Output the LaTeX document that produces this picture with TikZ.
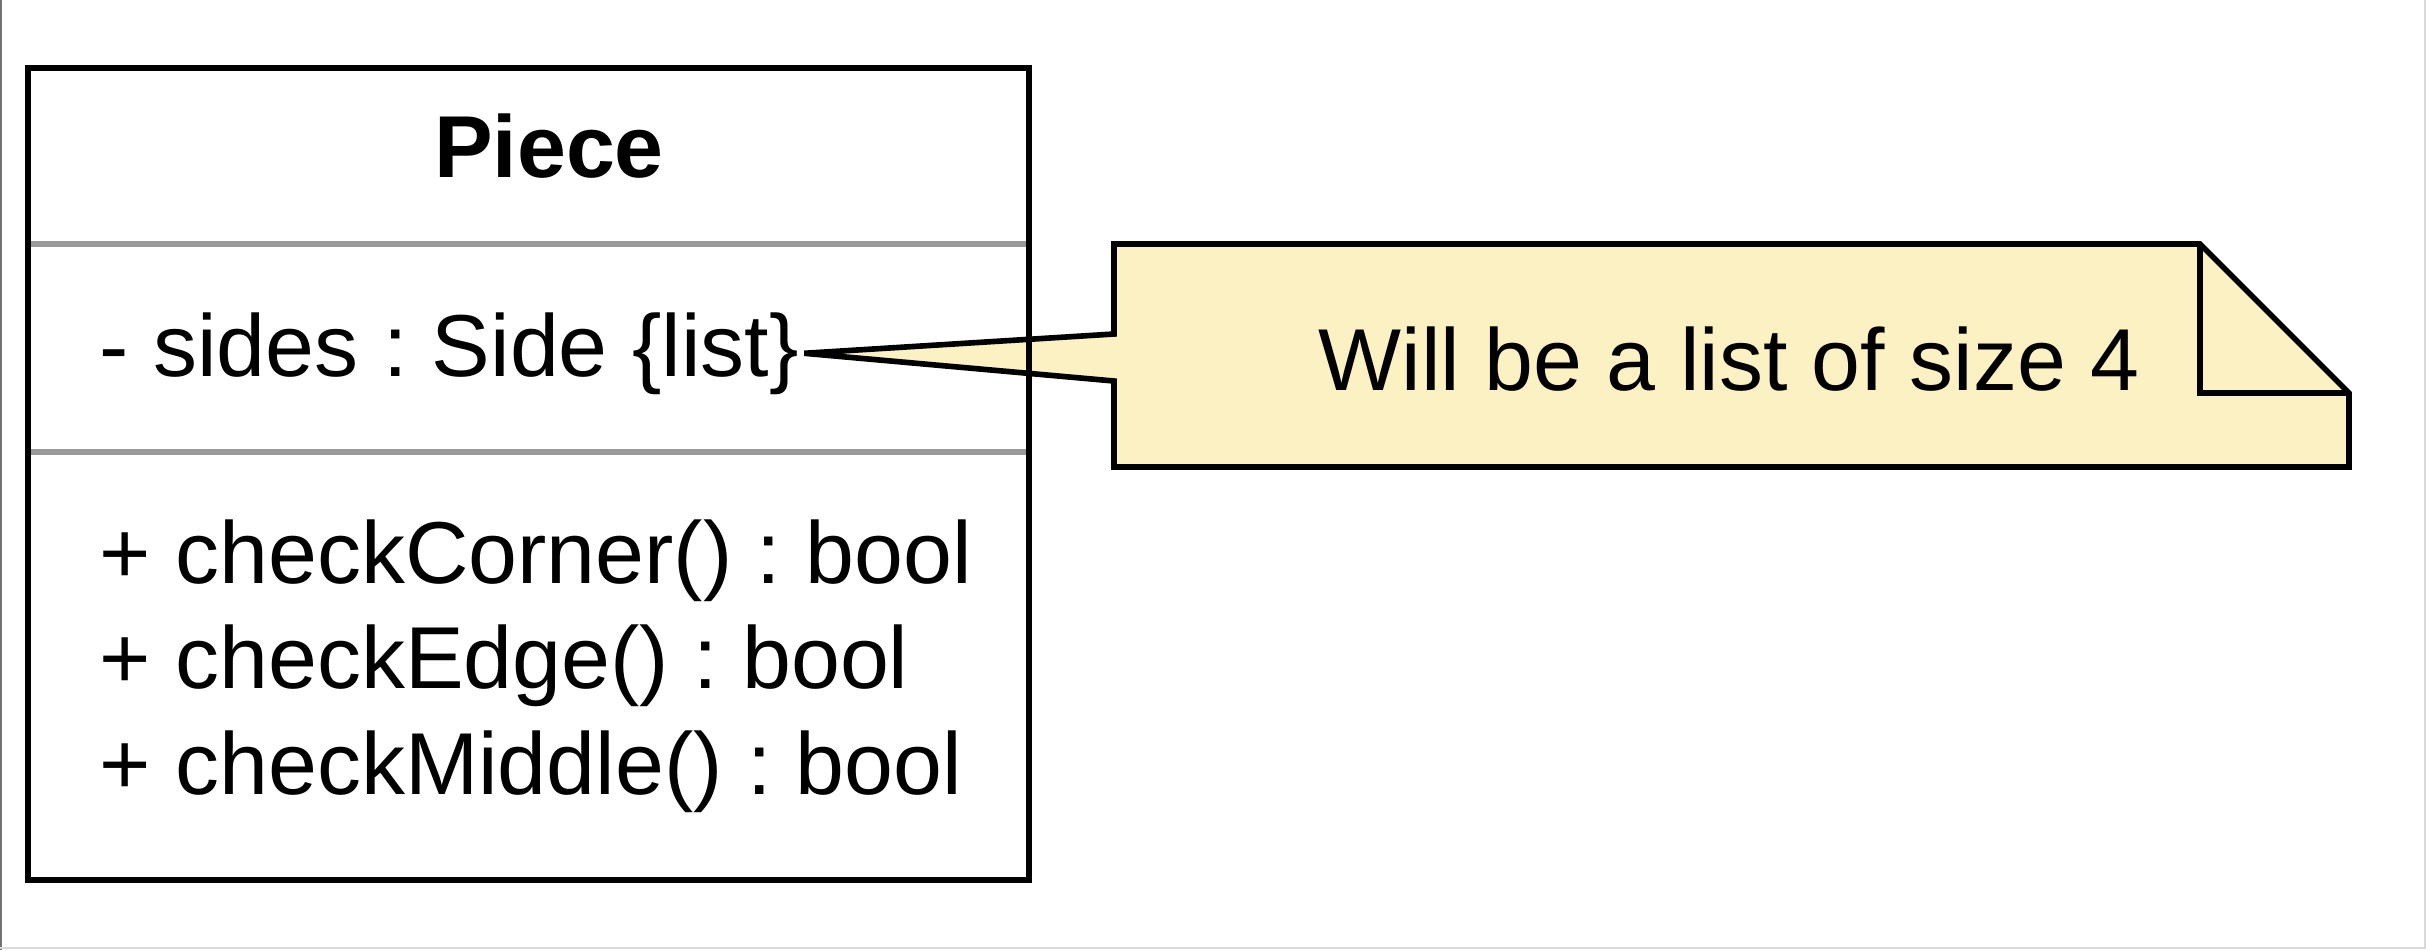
\documentclass[tikz,border=0pt]{standalone}
\usepackage{fontspec}
\setmainfont{Liberation Sans}
\definecolor{notefill}{RGB}{252,241,194}
\definecolor{sepgray}{RGB}{153,153,153}
\frenchspacing

\begin{document}
\begin{tikzpicture}[x = 0.01cm, y = -0.01cm, line width = 1.6pt,
        font = \fontsize{25}{30}\selectfont,
        member/.style = {anchor = base west, inner sep = 0pt}]
    \useasboundingbox (0, 0) rectangle (2426, 950);
    % frame round the page
    \draw[line width = 0.7pt, black!55] (1, 0) -- (1, 950);
    \draw[line width = 0.6pt, black!15] (0, 948) -- (2425, 948) -- (2425, 0);

    % class members
    \node[anchor = base, inner sep = 0pt, font = \fontsize{25}{30}\selectfont\bfseries] (title) at (549, 177) {Piece};
    \node[member] (sides) at (97, 376) {- sides : Side \{list\}};
    \node[member] (m1) at (97, 583) {+ checkCorner() : bool};
    \node[member] (m2) at (97, 688) {+ checkEdge() : bool};
    \node[member] (m3) at (97, 794) {+ checkMiddle() : bool};

    % note with its pointer
    \coordinate (tip) at ([xshift = 0.03cm] sides.east);
    \draw[fill = notefill] (1114, 244) -- (2200, 244) -- (2349, 393) -- (2349, 467)
        -- (1114, 467) -- (1114, 381) -- (tip) -- (1114, 334) -- cycle;
    \draw (2200, 244) -- (2200, 393) -- (2349, 393);
    \node[anchor = base, inner sep = 0pt] (note) at (1729, 390) {Will be a list of size 4};

    % class box
    \draw[sepgray, line width = 1.9pt] (30, 244) -- (1026, 244);
    \draw[sepgray, line width = 1.9pt] (30, 452) -- (1026, 452);
    \node[draw = black, minimum width = 10.01cm, minimum height = 8.12cm, inner sep = 0pt] (piece) at (528.5, 474) {};
\end{tikzpicture}
\end{document}
